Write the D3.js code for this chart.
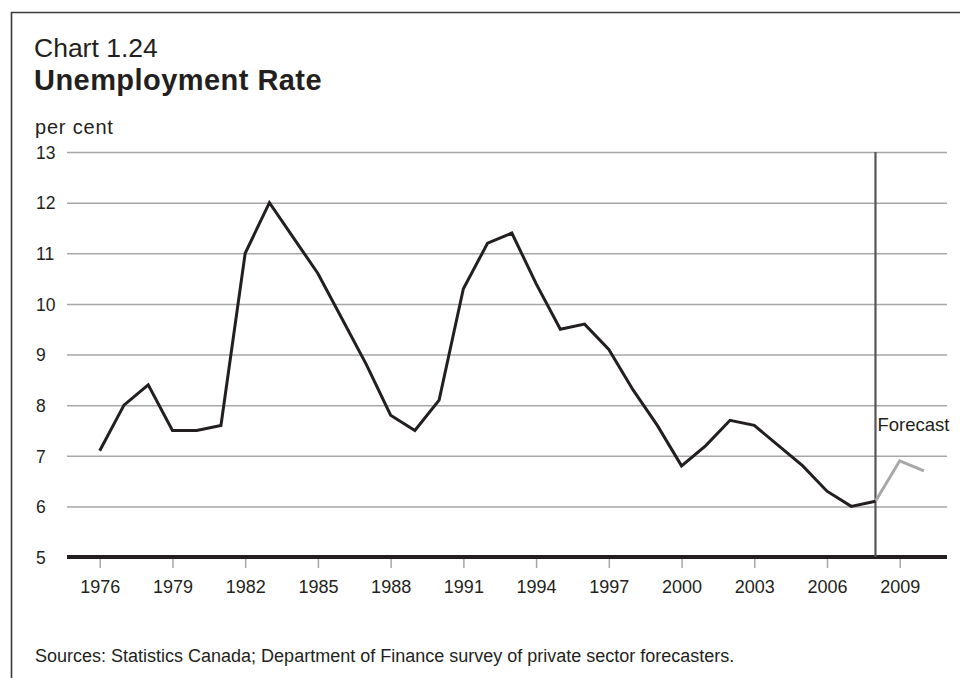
<!DOCTYPE html>
<html>
<head>
<meta charset="utf-8">
<script src="https://cdn.jsdelivr.net/npm/d3@7"></script>
<style>
  html, body { margin: 0; padding: 0; background: #fff; }
  svg { display: block; }
  text { font-family: "Liberation Sans", Arial, Helvetica, sans-serif; fill: #231f20; }
</style>
</head>
<body>
<svg id="chart" width="960" height="678"></svg>
<script>
// ---- data ----
const years = [1976,1977,1978,1979,1980,1981,1982,1983,1984,1985,1986,1987,1988,1989,1990,1991,1992,1993,1994,1995,1996,1997,1998,1999,2000,2001,2002,2003,2004,2005,2006,2007,2008];
const rates = [7.1,8.0,8.4,7.5,7.5,7.6,11.0,12.0,11.3,10.6,9.7,8.8,7.8,7.5,8.1,10.3,11.2,11.4,10.4,9.5,9.6,9.1,8.3,7.6,6.8,7.2,7.7,7.6,7.2,6.8,6.3,6.0,6.1];
const forecastYears = [2008, 2009, 2010];
const forecastRates = [6.1, 6.9, 6.7];
const xTickYears = [1976,1979,1982,1985,1988,1991,1994,1997,2000,2003,2006,2009];
const yTicks = [5,6,7,8,9,10,11,12,13];
const forecastStart = 2008;

const title1 = "Chart 1.24";
const title2 = "Unemployment Rate";
const yUnit = "per cent";
const forecastLabel = "Forecast";
const source = "Sources: Statistics Canada; Department of Finance survey of private sector forecasters.";

// ---- chart ----
const svg = d3.select("#chart");

const x = d3.scaleLinear().domain([1974.65, 2010.95]).range([67, 947]);
const y = d3.scaleLinear().domain([5, 13]).range([557, 152]);

// frame (left and top edges)
svg.append("path")
  .attr("d", "M11.5,678 L11.5,12.5 L960,12.5")
  .attr("fill", "none").attr("stroke", "#3a3a3a").attr("stroke-width", 1.6);

// titles
svg.append("text").attr("x", 34).attr("y", 57)
  .attr("font-size", 26.5).text(title1);
svg.append("text").attr("x", 34).attr("y", 90)
  .attr("font-size", 29).attr("letter-spacing", 0.45).attr("font-weight", "bold").text(title2);
svg.append("text").attr("x", 35).attr("y", 134)
  .attr("font-size", 20).attr("letter-spacing", 0.8).text(yUnit);

// gridlines
const yAxis = d3.axisLeft(y).tickValues(yTicks).tickSize(-(x.range()[1] - x.range()[0])).tickPadding(16).tickFormat(d3.format("d"));
const gy = svg.append("g").attr("transform", `translate(${x.range()[0]},0)`).call(yAxis);
gy.select(".domain").remove();
gy.selectAll(".tick line").attr("stroke", "#a7a7a7").attr("stroke-width", 1.5);
gy.selectAll(".tick text").attr("font-size", 17.5).attr("text-anchor", "start").attr("x", -31).attr("dy", "0.36em");
gy.selectAll(".tick").filter(d => d === 5).select("line").remove();

// x axis
const xAxis = d3.axisBottom(x).tickValues(xTickYears).tickSize(11).tickPadding(12).tickFormat(d3.format("d"));
const gx = svg.append("g").attr("transform", `translate(0,${y(5)})`).call(xAxis);
gx.select(".domain").remove();
gx.selectAll(".tick line").attr("stroke", "#a7a7a7").attr("stroke-width", 1.5);
gx.selectAll(".tick text").attr("font-size", 18);

// baseline
svg.append("line")
  .attr("x1", x.range()[0]).attr("x2", x.range()[1])
  .attr("y1", y(5)).attr("y2", y(5))
  .attr("stroke", "#231f20").attr("stroke-width", 4);

// forecast divider
svg.append("line")
  .attr("x1", x(forecastStart)).attr("x2", x(forecastStart))
  .attr("y1", y(13)).attr("y2", y(5))
  .attr("stroke", "#555").attr("stroke-width", 2.2);

svg.append("text").attr("x", x(forecastStart) + 2).attr("y", 431)
  .attr("font-size", 18.5).text(forecastLabel);

// lines
const line = d3.line().x(d => x(d[0])).y(d => y(d[1]));
svg.append("path")
  .datum(forecastYears.map((yr, i) => [yr, forecastRates[i]]))
  .attr("d", line).attr("fill", "none")
  .attr("stroke", "#a8a8a8").attr("stroke-width", 3).attr("stroke-linejoin", "miter");
svg.append("path")
  .datum(years.map((yr, i) => [yr, rates[i]]))
  .attr("d", line).attr("fill", "none")
  .attr("stroke", "#231f20").attr("stroke-width", 3).attr("stroke-linejoin", "miter");

// source
svg.append("text").attr("x", 35).attr("y", 662)
  .attr("font-size", 18).text(source);
</script>
</body>
</html>
